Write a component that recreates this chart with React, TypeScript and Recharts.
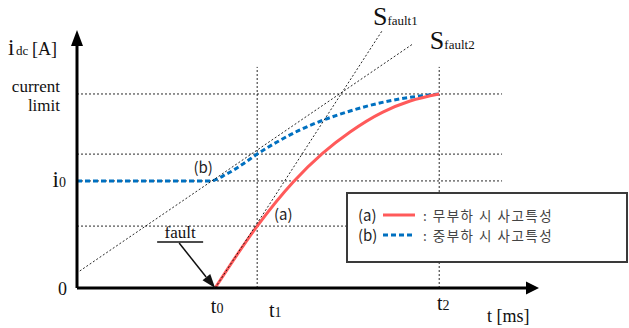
import React from "react";
import { LineChart, Line, XAxis, YAxis, ReferenceLine, ReferenceDot } from "recharts";

// sketch units: t and i both run 0..100 along the drawn axes
const tMarks = [29.9, 39.0, 78.4]; // t0, t1, t2
const tSubs = ["0", "1", "2"];
const currentLimit = 75.2;
const i0 = 41.5;
const levelT1Heavy = 51.9;
const levelT1Light = 24.0;
const gridLevels = [levelT1Light, i0, levelT1Heavy, currentLimit];

// (a) no-load fault current
const noLoadT = [29.9, 39.0, 46.8, 53.2, 59.1, 66.2, 72.1, 78.4];
const noLoadI = [0, 24.0, 41.1, 52.3, 60.5, 68.2, 72.5, 75.2];

// (b) heavy-load fault current
const heavyT = [0, 28.8, 32.5, 36.1, 39.0, 43.3, 48.3, 54.1, 58.4, 62.8, 68.4, 74.2, 78.4];
const heavyI = [41.5, 41.5, 44.3, 48.3, 51.9, 56.6, 61.3, 65.6, 68.2, 70.5, 72.8, 74.4, 75.2];

// slope lines
const sFault1T = [29.9, 66.0];
const sFault1I = [0, 99.6];
const sFault2T = [0.6, 72.7];
const sFault2I = [6.6, 94.6];

const legendKeys = ["(a)", "(b)"];
const legendNames = ["무부하 시 사고특성", "중부하 시 사고특성"];
const legendColors = ["#FF5A5A", "#0070C0"];

const SERIF = '"Liberation Serif", "DejaVu Serif", serif';
const SANS = '"Noto Sans CJK KR", "Noto Sans", sans-serif';
const DOTTED = { stroke: "#111", strokeWidth: 0.9, strokeDasharray: "2 2" };

const zip = (ts: number[], is: number[]) => ts.map((t, k) => ({ t, i: is[k] }));

export default function App() {
  const noLoad = zip(noLoadT, noLoadI);
  const heavy = zip(heavyT, heavyI);
  const s1 = zip(sFault1T, sFault1I);
  const s2 = zip(sFault2T, sFault2I);

  return (
    <div style={{ position: "absolute", left: 0, top: 0, width: 629, height: 328, background: "#fff" }}>
      <LineChart width={629} height={328} margin={{ top: 30, right: 90, bottom: 40, left: 77 }}>
        <XAxis type="number" dataKey="t" domain={[0, 100]} hide />
        <YAxis type="number" dataKey="i" domain={[0, 100]} hide />

        {/* dotted guide lines */}
        {gridLevels.map((lv) => (
          <ReferenceLine key={"h" + lv} segment={[{ x: 0, y: lv }, { x: 92, y: lv }]} {...DOTTED} ifOverflow="visible" />
        ))}
        {tMarks.slice(1).map((tm) => (
          <ReferenceLine key={"v" + tm} segment={[{ x: tm, y: 0 }, { x: tm, y: 85.7 }]} {...DOTTED} ifOverflow="visible" />
        ))}

        <Line data={heavy} dataKey="i" type="monotone" stroke={legendColors[1]} strokeWidth={3}
          strokeDasharray="5 3" dot={false} activeDot={false} isAnimationActive={false} />
        <Line data={noLoad} dataKey="i" type="monotone" stroke={legendColors[0]} strokeWidth={3}
          dot={false} activeDot={false} isAnimationActive={false} />
        <Line data={s1} dataKey="i" type="linear" {...DOTTED} dot={false} activeDot={false} isAnimationActive={false} />
        <Line data={s2} dataKey="i" type="linear" {...DOTTED} dot={false} activeDot={false} isAnimationActive={false} />

        {/* axes */}
        <ReferenceLine segment={[{ x: 0, y: 0 }, { x: 97.5, y: 0 }]} stroke="#000" strokeWidth={3} ifOverflow="visible" />
        <ReferenceLine segment={[{ x: 0, y: 0 }, { x: 0, y: 95 }]} stroke="#000" strokeWidth={3} ifOverflow="visible" />
        <ReferenceDot x={100} y={0} r={1} ifOverflow="visible"
          shape={(p: any) => <polygon points={`${p.cx},${p.cy} ${p.cx - 13},${p.cy - 6.5} ${p.cx - 13},${p.cy + 6.5}`} fill="#000" />} />
        <ReferenceDot x={0} y={100} r={1} ifOverflow="visible"
          shape={(p: any) => (
            <g>
              <polygon points={`${p.cx},${p.cy} ${p.cx - 6},${p.cy + 16} ${p.cx + 6},${p.cy + 16}`} fill="#000" />
              <text y={p.cy + 25} fontFamily={SERIF} fill="#111">
                <tspan x={p.cx - 69} fontSize={23}>i</tspan>
                <tspan x={p.cx - 61} fontSize={13}>dc</tspan>
                <tspan x={p.cx - 45} fontSize={18}>[A]</tspan>
              </text>
            </g>
          )} />

        {/* y labels */}
        <ReferenceDot x={0} y={currentLimit} r={1} ifOverflow="visible"
          shape={(p: any) => (
            <text fontFamily={SERIF} fontSize={17} fill="#111" textAnchor="end">
              <tspan x={p.cx - 17} y={p.cy - 2}>current</tspan>
              <tspan x={p.cx - 17} y={p.cy + 17}>limit</tspan>
            </text>
          )} />
        <ReferenceDot x={0} y={i0} r={1} ifOverflow="visible"
          shape={(p: any) => (
            <text x={p.cx - 11} y={p.cy + 6} fontFamily={SERIF} fill="#111" textAnchor="end">
              <tspan fontSize={23}>i</tspan>
              <tspan fontSize={14}>0</tspan>
            </text>
          )} />
        <ReferenceDot x={0} y={0} r={1} ifOverflow="visible"
          shape={(p: any) => (
            <text x={p.cx - 10} y={p.cy + 7} fontFamily={SERIF} fontSize={18} fill="#111" textAnchor="end">0</text>
          )} />

        {/* t labels */}
        {tMarks.map((tm, k) => (
          <ReferenceDot key={"tl" + k} x={tm} y={0} r={1} ifOverflow="visible"
            shape={(p: any) => (
              <text x={p.cx + [2, 18, 4][k]} y={p.cy + [25, 29, 22][k]} fontFamily={SERIF} fill="#111" textAnchor="middle">
                <tspan fontSize={20}>t</tspan>
                <tspan fontSize={14}>{tSubs[k]}</tspan>
              </text>
            )} />
        ))}
        <ReferenceDot x={100} y={0} r={1} ifOverflow="visible"
          shape={(p: any) => (
            <text x={p.cx - 52} y={p.cy + 34} fontFamily={SERIF} fontSize={18} fill="#111">t [ms]</text>
          )} />

        {/* fault arrow */}
        <ReferenceDot x={tMarks[0]} y={0} r={1} ifOverflow="visible"
          shape={(p: any) => (
            <g>
              <text x={p.cx - 35} y={p.cy - 50} fontFamily={SERIF} fontSize={17} fill="#111" textAnchor="middle">fault</text>
              <line x1={p.cx - 58} y1={p.cy - 46} x2={p.cx - 12} y2={p.cy - 46} stroke="#111" strokeWidth={1.5} />
              <line x1={p.cx - 36} y1={p.cy - 45} x2={p.cx - 9} y2={p.cy - 11} stroke="#111" strokeWidth={1.5} />
              <polygon points={`${p.cx},${p.cy} ${p.cx - 12.6},${p.cy - 7.8} ${p.cx - 4.9},${p.cy - 14}`} fill="#111" />
            </g>
          )} />

        {/* curve tags */}
        <ReferenceDot x={tMarks[1]} y={levelT1Light} r={1} ifOverflow="visible"
          shape={(p: any) => (
            <text x={p.cx + 26} y={p.cy - 6} fontFamily={SANS} fontSize={15} fill="#222" textAnchor="middle">(a)</text>
          )} />
        <ReferenceDot x={tMarks[0]} y={i0} r={1} ifOverflow="visible"
          shape={(p: any) => (
            <text x={p.cx - 12} y={p.cy - 8} fontFamily={SANS} fontSize={15} fill="#222" textAnchor="middle">(b)</text>
          )} />

        {/* slope labels */}
        <ReferenceDot x={sFault1T[1]} y={sFault1I[1]} r={1} ifOverflow="visible"
          shape={(p: any) => (
            <text x={p.cx - 9} y={p.cy - 6} fontFamily={SERIF} fill="#111">
              <tspan fontSize={26}>S</tspan>
              <tspan fontSize={13}>fault1</tspan>
            </text>
          )} />
        <ReferenceDot x={sFault2T[1]} y={sFault2I[1]} r={1} ifOverflow="visible"
          shape={(p: any) => (
            <text x={p.cx + 17} y={p.cy + 5} fontFamily={SERIF} fill="#111">
              <tspan fontSize={26}>S</tspan>
              <tspan fontSize={13}>fault2</tspan>
            </text>
          )} />
      </LineChart>

      <div
        style={{
          position: "absolute", left: 346, top: 192, width: 282, height: 71, boxSizing: "border-box",
          border: "2px solid #3a3a3a", background: "#fff", paddingTop: 11, paddingLeft: 10, fontFamily: SANS,
        }}
      >
        {legendKeys.map((key, k) => (
          <div key={key} style={{ height: 20, display: "flex", alignItems: "center", whiteSpace: "nowrap" }}>
            <span style={{ fontSize: 15, color: "#222", width: 17, lineHeight: "20px" }}>{key}</span>
            <svg width={32} height={6} style={{ marginLeft: 8, marginRight: 8 }}>
              <line x1={0} y1={3} x2={32} y2={3} stroke={legendColors[k]} strokeWidth={3}
                strokeDasharray={k === 1 ? "5 3" : undefined} />
            </svg>
            <span style={{ fontSize: 13.5, letterSpacing: 1.5, color: "#444", lineHeight: "20px" }}>: {legendNames[k]}</span>
          </div>
        ))}
      </div>
    </div>
  );
}
